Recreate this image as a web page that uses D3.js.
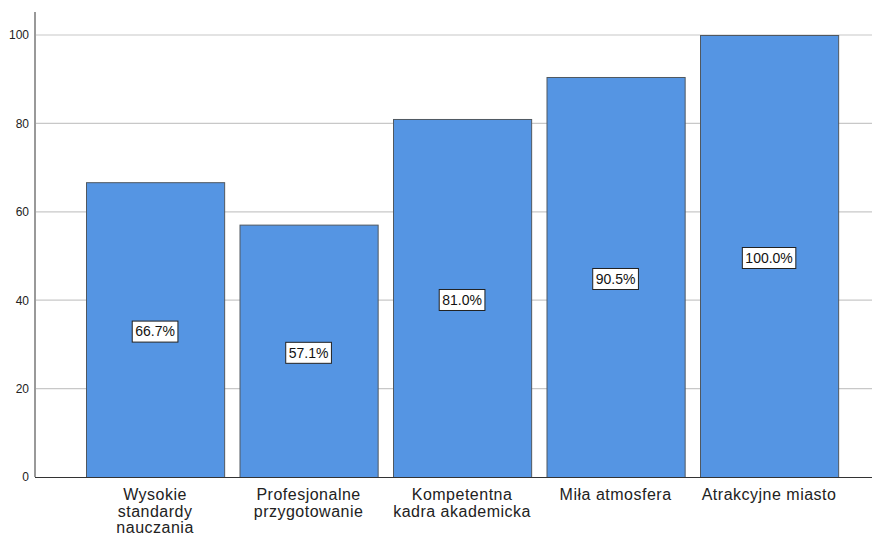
<!DOCTYPE html>
<html><head><meta charset="utf-8">
<script src="https://cdn.jsdelivr.net/npm/d3@7"></script>
<style>body{margin:0;background:#fff;} svg{display:block;}</style>
</head><body>
<script>
const categories = [["Wysokie","standardy","nauczania"],["Profesjonalne","przygotowanie"],["Kompetentna","kadra akademicka"],["Miła atmosfera"],["Atrakcyjne miasto"]];
const values = [66.7, 57.1, 81.0, 90.5, 100.0];
const yTicks = [0, 20, 40, 60, 80, 100];

const W = 872, H = 536;
const svg = d3.select("body").append("svg").attr("width", W).attr("height", H);
const font = "'Liberation Sans', Arial, sans-serif";

const x = d3.scaleBand().domain(d3.range(values.length)).range([70.65, 853.5]).paddingInner(0.1).paddingOuter(0.1);
const y = d3.scaleLinear().domain([0, 100]).range([477, 35]);

// gridlines
svg.append("g").selectAll("line").data(yTicks.filter(d => d > 0)).join("line")
  .attr("x1", 36).attr("x2", W).attr("y1", d => y(d)).attr("y2", d => y(d))
  .attr("stroke", "#c8c8c8").attr("stroke-width", 1.2);

// y axis
const yAxis = d3.axisLeft(y).tickValues(yTicks).tickSize(0).tickPadding(6).tickFormat(d3.format("d"));
const ga = svg.append("g").attr("transform", "translate(35,0)").call(yAxis);
ga.select(".domain").remove();
ga.selectAll("text").attr("font-family", font).attr("font-size", 12).attr("fill", "#222");
svg.append("line").attr("x1", 35).attr("x2", 35).attr("y1", 12).attr("y2", 477).attr("stroke", "#999").attr("stroke-width", 2);

// bars
svg.append("g").selectAll("rect").data(values).join("rect")
  .attr("x", (d, i) => x(i) + 0.5).attr("y", d => y(d) + 0.5)
  .attr("width", x.bandwidth()).attr("height", d => y(0) - y(d))
  .attr("fill", "#5595e3").attr("stroke", "#505860").attr("stroke-width", 1);

// baseline
svg.append("line").attr("x1", 35).attr("x2", W).attr("y1", 477.5).attr("y2", 477.5).attr("stroke", "#333").attr("stroke-width", 1.2);

// value labels
const lg = svg.append("g").selectAll("g").data(values).join("g")
  .attr("transform", (d, i) => `translate(${x(i) + x.bandwidth() / 2},${y(d / 2) + 2})`);
lg.append("text").text(d => d.toFixed(1) + "%")
  .attr("text-anchor", "middle").attr("dy", "0.35em")
  .attr("font-family", font).attr("font-size", 14).attr("fill", "#111");
lg.each(function() {
  const g = d3.select(this);
  const b = g.select("text").node().getBBox();
  g.insert("rect", "text").attr("x", b.x - 3).attr("y", -10.5).attr("width", b.width + 6).attr("height", 21)
    .attr("fill", "#fff").attr("stroke", "#222").attr("stroke-width", 1);
});

// category labels
const cg = svg.append("g").selectAll("text").data(categories).join("text")
  .attr("x", (d, i) => x(i) + x.bandwidth() / 2).attr("y", 500)
  .attr("text-anchor", "middle").attr("font-family", font).attr("font-size", 16)
  .attr("letter-spacing", 0.5).attr("fill", "#222");
cg.selectAll("tspan").data(d => d).join("tspan")
  .attr("x", function() { return this.parentNode.getAttribute("x"); })
  .attr("dy", (d, i) => i === 0 ? 0 : 16.5).text(d => d);
</script>
</body></html>
